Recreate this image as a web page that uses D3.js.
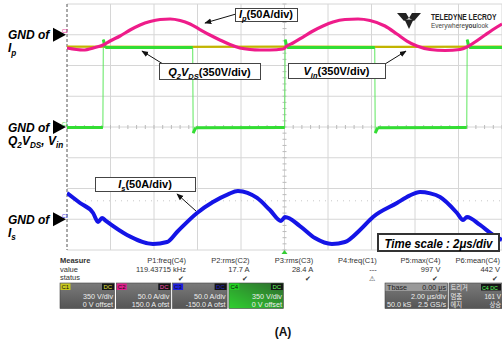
<!DOCTYPE html>
<html><head><meta charset="utf-8">
<script src="https://cdn.jsdelivr.net/npm/d3@7"></script>
<style>body{margin:0;background:#fff;} svg{display:block;font-family:"Liberation Sans",Arial,sans-serif;}</style>
</head><body><svg id="c" width="502" height="344"></svg>
<script>
// ---- data ----
const timePerDiv = 2;           // µs/div
const xDivs = 10, yDivs = 8;

// I_p (C2) in A vs time in µs
const ipTime = [0,0.74,1.29,1.66,1.98,2.44,2.90,3.36,3.82,4.28,4.74,5.20,5.66,6.11,6.57,7.03,7.49,7.95,8.41,8.87,9.33,9.93,10.11,10.39,10.85,11.31,11.77,12.23,12.78,13.38,13.93,14.62,15.17,15.63,16.09,16.69,17.38,18.07,18.39,18.76,19.22,19.77,20];
const ipAmps = [-21.5,-24.8,-20.7,-16.7,-10.2,-2.0,7.7,15.9,21.5,24.8,25.6,23.2,17.5,8.5,-0.4,-8.5,-15.9,-21.5,-24.0,-24.8,-24.8,-23.2,-18.3,-13.4,-3.7,6.1,14.2,20.7,24.8,25.6,23.2,14.2,1.2,-10.2,-18.3,-24.0,-25.6,-24.0,-20.0,-11.8,-0.4,12.6,17.5];

// I_s (C3) in A
const isTime = [0,0.60,1.20,1.43,1.61,1.79,2.76,3.95,4.60,5.06,5.98,6.71,7.40,7.86,8.30,8.74,9.33,9.84,10.02,10.71,11.40,12.18,12.78,13.47,14.07,15.17,15.75,16.23,16.70,17.15,17.93,18.21,18.39,18.99,19.59,20];
const isAmps = [42.7,26.4,10.2,-4.5,2.0,-2.8,-25.6,-40.2,-37.0,-20.7,10.2,28.0,40.5,45.9,43.0,34.6,15.0,-2.8,3.7,-11.0,-30.5,-40.2,-37.0,-17.5,3.7,26.4,38.5,44.3,42.0,36.2,10.2,-1.2,3.7,-9.3,-25.6,-33.7];

// V_in (C4) in V
const vinTime = [0,1.65,1.67,1.76,5.78,5.80,5.92,10.01,10.03,10.12,14.15,14.17,14.29,18.38,18.40,18.49,20];
const vinVolts = [-5,-5,995,905,905,-70,-8,-5,995,905,905,-70,-8,-5,995,905,905];

// Q2 V_DS (C1) in V
const q2Time = [0,5,10,15,20];
const q2Volts = [915,912,915,912,915];

// channel settings
const chNames = ["C1","C2","C3","C4"];
const chPerDiv = [350,50,50,350];
const chOffset = [0,150,-150,0];
const chScaleText = ["350 V/div","50.0 A/div","50.0 A/div","350 V/div"];
const chOffsetText = ["0 V offset","150.0 A ofst","-150.0 A ofst","0 V offset"];

// measurements
const measHeaders = ["P1:freq(C4)","P2:rms(C2)","P3:rms(C3)","P4:freq(C1)","P5:max(C4)","P6:mean(C4)"];
const measValues = ["119.43715 kHz","17.7 A","28.4 A","---","997 V","442 V"];
const measStatus = ["✔","✔","✔","⚠","✔","✔"];

// ---- layout ----
const L = 67, R = 502, T = 4, B = 250;
const svg = d3.select("#c");
const x = d3.scaleLinear().domain([0, xDivs*timePerDiv]).range([L, R]);
const yDiv = d3.scaleLinear().domain([-yDivs/2, yDivs/2]).range([B, T]);
const chY = i => d3.scaleLinear().domain([-4*chPerDiv[i]-chOffset[i], 4*chPerDiv[i]-chOffset[i]]).range([B, T]);
const yQ2 = chY(0), yIp = chY(1), yIs = chY(2), yVin = chY(3);

svg.append("rect").attr("width",502).attr("height",344).attr("fill","#fff");

// grid
const g = svg.append("g");
d3.range(0, xDivs+1).forEach(i => {
  if (i === 0) return;
  g.append("line").attr("x1", x(i*timePerDiv)).attr("x2", x(i*timePerDiv)).attr("y1", T).attr("y2", B)
   .attr("stroke","#d6d6d6").attr("stroke-width",1);
});
d3.range(-4, 5).forEach(d => {
  g.append("line").attr("x1", L).attr("x2", R).attr("y1", yDiv(d)).attr("y2", yDiv(d))
   .attr("stroke","#d6d6d6").attr("stroke-width",1);
});
// minor ticks on center axes
const cx = x(10), cy = yDiv(0);
d3.range(0, xDivs*5+1).forEach(k => {
  const xx = x(k*timePerDiv/5);
  g.append("line").attr("x1",xx).attr("x2",xx).attr("y1",cy-2).attr("y2",cy+2).attr("stroke","#bbb");
});
d3.range(0, yDivs*5+1).forEach(k => {
  const yy = yDiv(-4 + k/5);
  g.append("line").attr("x1",cx-2).attr("x2",cx+2).attr("y1",yy).attr("y2",yy).attr("stroke","#bbb");
});
g.append("line").attr("x1",L).attr("x2",R).attr("y1",yDiv(-2.4)).attr("y2",yDiv(-2.4))
 .attr("stroke","#c8c8c8").attr("stroke-dasharray","1,5");
// left dashed border
g.append("line").attr("x1",L).attr("x2",L).attr("y1",T).attr("y2",B)
 .attr("stroke","#555").attr("stroke-dasharray","3,2");

// clip
svg.append("clipPath").attr("id","clp").append("rect").attr("x",L).attr("y",T).attr("width",R-L).attr("height",B-T);
const tr = svg.append("g").attr("clip-path","url(#clp)");

function pts(ts, vs){ return ts.map((t,i)=>[t, vs[i]]); }

// Q2 VDS (yellow)
tr.append("path").datum(pts(q2Time,q2Volts))
  .attr("d", d3.line().x(d=>x(d[0])).y(d=>yQ2(d[1])))
  .attr("fill","none").attr("stroke","#c2b400").attr("stroke-width",2.4);

// Vin (green): thin full path + thick flat parts
const vinPts = pts(vinTime, vinVolts);
tr.append("path").datum(vinPts)
  .attr("d", d3.line().x(d=>x(d[0])).y(d=>yVin(d[1])))
  .attr("fill","none").attr("stroke","#5ee85e").attr("stroke-width",1);
for (let i=0;i<vinPts.length-1;i++){
  if (vinPts[i+1][0]-vinPts[i][0] > 0.05) {
    tr.append("line").attr("x1",x(vinPts[i][0])).attr("y1",yVin(vinPts[i][1]))
      .attr("x2",x(vinPts[i+1][0])).attr("y2",yVin(vinPts[i+1][1]))
      .attr("stroke","#33dd33").attr("stroke-width",3);
  }
}

// Ip (pink)
tr.append("path").datum(pts(ipTime, ipAmps))
  .attr("d", d3.line().curve(d3.curveMonotoneX).x(d=>x(d[0])).y(d=>yIp(d[1])))
  .attr("fill","none").attr("stroke","#ee1c8a").attr("stroke-width",3.2).attr("stroke-linejoin","round");

// Is (blue)
tr.append("path").datum(pts(isTime, isAmps))
  .attr("d", d3.line().curve(d3.curveMonotoneX).x(d=>x(d[0])).y(d=>yIs(d[1])))
  .attr("fill","none").attr("stroke","#1414e6").attr("stroke-width",4).attr("stroke-linejoin","round");

// trigger marker
svg.append("path").attr("d", `M${x(10)-3},${B+4} L${x(10)+3},${B+4} L${x(10)},${B} Z`).attr("fill","#33cc33");

// ---- rich text helper ----
function rich(sel, parts, size){
  let sub = false;
  parts.forEach(p => {
    const s = sel.append("tspan").text(p.t).attr("font-size", p.sub ? size*0.68 : size);
    if (p.it) s.attr("font-style","italic");
    if (p.sub && !sub) s.attr("dy", size*0.28);
    if (!p.sub && sub) s.attr("dy", -size*0.28);
    sub = !!p.sub;
  });
  return sel;
}

// ---- GND labels ----
const gnds = [
  {y: yIp(0), tag:"C2", col:"#e0208c", line2:[{t:"I",it:1},{t:"p",sub:1,it:1}]},
  {y: yVin(0), tag:"C1", col:"#33cc33", line2:[{t:"Q",it:1},{t:"2",sub:1,it:1},{t:"V",it:1},{t:"DS",sub:1,it:1},{t:", V",it:1},{t:"in",sub:1,it:1}]},
  {y: yIs(0), tag:"C3", col:"#3030e0", line2:[{t:"I",it:1},{t:"s",sub:1,it:1}]}
];
gnds.forEach(d => {
  svg.append("path").attr("d",`M53,${d.y-7} L66,${d.y} L53,${d.y+7} Z`).attr("fill","#000");
  svg.append("text").attr("x",8).attr("y",d.y+4.5).attr("font-size",12).attr("font-weight","bold")
     .attr("font-style","italic").text("GND of");
  rich(svg.append("text").attr("x",8).attr("y",d.y+17.5).attr("font-weight","bold"), d.line2, 12);
  svg.append("text").attr("x",62).attr("y",d.y-1.5).attr("font-size",4.5).attr("fill",d.col).text(d.tag);
});

// ---- annotation boxes + arrows ----
svg.append("defs").append("marker").attr("id","ah").attr("viewBox","0 0 10 10").attr("refX",9).attr("refY",5)
  .attr("markerWidth",7).attr("markerHeight",7).attr("orient","auto")
  .append("path").attr("d","M0,1 L10,5 L0,9 Z").attr("fill","#111");
const ann = [
  {x:235,y:8,w:62,h:13, parts:[{t:"I",it:1},{t:"p",sub:1,it:1},{t:"(50A/div)"}], a:[236,14,205,23]},
  {x:159,y:63,w:101,h:16, parts:[{t:"Q",it:1},{t:"2",sub:1,it:1},{t:"V",it:1},{t:"DS",sub:1,it:1},{t:"(350V/div)"}], a:[163,64,142,51]},
  {x:288,y:63,w:97,h:15, parts:[{t:"V",it:1},{t:"in",sub:1,it:1},{t:"(350V/div)"}], a:[385,64,406,51]},
  {x:95,y:177,w:100,h:14, parts:[{t:"I",it:1},{t:"s",sub:1,it:1},{t:"(50A/div)"}], a:[196,211,177,194]}
];
ann.forEach(d => {
  svg.append("line").attr("x1",d.a[0]).attr("y1",d.a[1]).attr("x2",d.a[2]).attr("y2",d.a[3])
     .attr("stroke","#111").attr("stroke-width",1).attr("marker-end","url(#ah)");
  svg.append("rect").attr("x",d.x+0.5).attr("y",d.y+0.5).attr("width",d.w).attr("height",d.h)
     .attr("fill","#fff").attr("stroke","#444").attr("stroke-width",1);
  rich(svg.append("text").attr("x",d.x+d.w/2).attr("y",d.y+d.h-3.2).attr("text-anchor","middle")
     .attr("font-weight","bold"), d.parts, 11);
});

// time scale box
svg.append("rect").attr("x",378).attr("y",234).attr("width",121).attr("height",17)
  .attr("fill","#fff").attr("stroke","#333").attr("stroke-width",2);
svg.append("text").attr("x",438.5).attr("y",247.5).attr("text-anchor","middle").attr("font-size",12.5)
  .attr("font-weight","bold").attr("font-style","italic").attr("textLength",108).attr("lengthAdjust","spacingAndGlyphs")
  .text("Time scale : 2μs/div");

// ---- logo ----
const lg = svg.append("g").attr("fill","#222");
lg.append("path").attr("d","M397,13 L406,13 L409,18 L404,21 Z");
lg.append("path").attr("d","M421,13 L412,13 L409,18 L414,21 Z");
lg.append("path").attr("d","M404.5,19.5 L413.5,19.5 L409,29 Z");
svg.append("text").attr("transform","translate(431,19.5) scale(0.78,1)").attr("font-size",8.6)
  .attr("font-weight","bold").attr("fill","#222").text("TELEDYNE LECROY");
const ev = svg.append("text").attr("transform","translate(431,27.5) scale(0.92,1)").attr("font-size",7).attr("fill","#444");
ev.append("tspan").text("Everywhere");
ev.append("tspan").attr("font-weight","bold").text("you");
ev.append("tspan").text("look");

// ---- measure table ----
const mt = svg.append("g").attr("fill","#333").attr("font-size",7.5);
mt.append("text").attr("x",60).attr("y",263).attr("font-weight","bold").text("Measure");
mt.append("text").attr("x",60).attr("y",271.5).text("value");
mt.append("text").attr("x",60).attr("y",280).text("status");
measHeaders.forEach((h,i) => {
  const rx = Math.min(186 + i*63.6, 500);
  mt.append("text").attr("x",rx).attr("y",263).attr("text-anchor","end").text(h);
  mt.append("text").attr("x",rx).attr("y",271.5).attr("text-anchor","end").text(measValues[i]);
  mt.append("text").attr("x",rx-2).attr("y",280.5).attr("text-anchor","end").attr("font-size",7).text(measStatus[i]);
});

// ---- channel boxes ----
const defs = svg.select("defs");
const gg = defs.append("linearGradient").attr("id","gbox").attr("x1",0).attr("y1",0).attr("x2",0).attr("y2",1);
gg.append("stop").attr("offset",0).attr("stop-color","#7a7a7a");
gg.append("stop").attr("offset",1).attr("stop-color","#555");
const gr = defs.append("linearGradient").attr("id","grbox").attr("x1",1).attr("y1",0).attr("x2",0).attr("y2",1);
gr.append("stop").attr("offset",0).attr("stop-color","#2f6a2f");
gr.append("stop").attr("offset",1).attr("stop-color","#2fd02f");
const tagBg = ["#c8c81e","#e0208c","#2020e0","#22d022"];
const dcCol = ["#e0e040","#ff50b0","#2828c0","#60ff60"];
chNames.forEach((n,i) => {
  const bx = 60 + i*56.3, by = 283;
  const cb = svg.append("g");
  cb.append("rect").attr("x",bx).attr("y",by).attr("width",54.5).attr("height",25.5)
    .attr("fill", i===3 ? "url(#grbox)" : "url(#gbox)").attr("stroke","#444").attr("stroke-width",0.6);
  cb.append("rect").attr("x",bx+0.5).attr("y",by+0.5).attr("width",10).attr("height",6.5).attr("fill",tagBg[i]);
  cb.append("text").attr("x",bx+1.5).attr("y",by+6.3).attr("font-size",6).attr("fill","#111").text(n);
  cb.append("rect").attr("x",bx+42).attr("y",by+0.5).attr("width",12).attr("height",6.5).attr("fill","#151515");
  cb.append("text").attr("x",bx+43.5).attr("y",by+6.3).attr("font-size",6).attr("fill",dcCol[i]).text("DC");
  cb.append("text").attr("x",bx+53).attr("y",by+16).attr("text-anchor","end").attr("font-size",7.2).attr("fill","#eee").text(chScaleText[i]);
  cb.append("text").attr("x",bx+53).attr("y",by+23.5).attr("text-anchor","end").attr("font-size",7.2).attr("fill","#eee").text(chOffsetText[i]);
});

// timebase box
const tb = svg.append("g").attr("font-size",7.2).attr("fill","#eee");
tb.append("rect").attr("x",385).attr("y",283).attr("width",62.5).attr("height",25.5).attr("fill","url(#gbox)").attr("stroke","#444").attr("stroke-width",0.6);
tb.append("rect").attr("x",385.5).attr("y",283.5).attr("width",61.5).attr("height",7.5).attr("fill","#9a9a9a");
tb.append("text").attr("x",387).attr("y",290).attr("fill","#222").text("Tbase");
tb.append("text").attr("x",446).attr("y",290).attr("text-anchor","end").attr("fill","#222").text("0.00 μs");
tb.append("text").attr("x",446).attr("y",299).attr("text-anchor","end").text("2.00 μs/div");
tb.append("text").attr("x",387).attr("y",306.5).text("50.0 kS");
tb.append("text").attr("x",446).attr("y",306.5).attr("text-anchor","end").text("2.5 GS/s");

// trigger box
const tg = svg.append("g").attr("font-size",6.3).attr("fill","#eee").attr("font-family","'Noto Sans CJK KR','Liberation Sans',sans-serif");
tg.append("rect").attr("x",449).attr("y",283).attr("width",55).attr("height",25.5).attr("fill","url(#gbox)").attr("stroke","#444").attr("stroke-width",0.6);
tg.append("text").attr("x",450.5).attr("y",290).text("트리거");
tg.append("rect").attr("x",481).attr("y",284).attr("width",20).attr("height",6.5).attr("fill","#151515");
tg.append("text").attr("x",482).attr("y",289.6).attr("font-size",5.3).attr("font-family","'Liberation Sans',sans-serif").attr("fill","#60ff60").text("C4 DC");
tg.append("text").attr("x",450.5).attr("y",299).text("멈춤");
tg.append("text").attr("x",501).attr("y",299).attr("text-anchor","end").attr("font-family","'Liberation Sans',sans-serif").text("161 V");
tg.append("text").attr("x",450.5).attr("y",307).text("에지");
tg.append("text").attr("x",501).attr("y",307).attr("text-anchor","end").text("상승");

// caption
svg.append("text").attr("x",283).attr("y",336).attr("text-anchor","middle").attr("font-size",12)
  .attr("font-weight","bold").attr("fill","#111").text("(A)");
</script></body></html>
